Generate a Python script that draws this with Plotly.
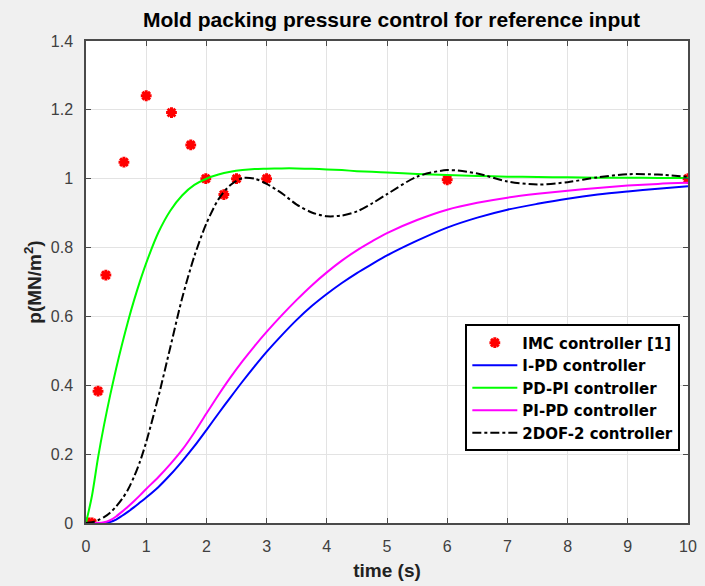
import plotly.graph_objects as go

# IMC controller [1] (red asterisks)
imc_t = [0, 0.05, 0.1, 0.2, 0.33, 0.63, 1.0, 1.42, 1.74, 1.99, 2.29, 2.5, 3.0, 6.0, 10.0]
imc_p = [0, 0, 0, 0.383, 0.72, 1.048, 1.241, 1.192, 1.098, 1.0, 0.954, 1.0, 1.0, 0.997, 1.0]

# common time grid for the controller responses
t = [0, 0.1, 0.2, 0.3, 0.4, 0.5, 0.6, 0.7, 0.8, 0.9, 1.0, 1.2, 1.4, 1.6, 1.8, 2.0,
     2.2, 2.4, 2.6, 2.8, 3.0, 3.25, 3.5, 3.75, 4.0, 4.25, 4.5, 4.75, 5.0, 5.5, 6.0,
     6.5, 7.0, 7.5, 8.0, 8.5, 9.0, 9.5, 10.0]

ipd = [0, 0, 0, 0, 0.003, 0.01, 0.021, 0.033, 0.046, 0.06, 0.074, 0.104, 0.14, 0.18,
       0.223, 0.27, 0.318, 0.365, 0.411, 0.455, 0.497, 0.545, 0.59, 0.63, 0.665, 0.697,
       0.726, 0.752, 0.777, 0.82, 0.858, 0.887, 0.91, 0.927, 0.942, 0.954, 0.963, 0.971, 0.978]

pdpi = [0, 0.08, 0.19, 0.285, 0.37, 0.448, 0.52, 0.587, 0.648, 0.704, 0.755, 0.843, 0.907,
        0.952, 0.982, 1.0, 1.012, 1.02, 1.025, 1.028, 1.029, 1.03, 1.03, 1.029, 1.027,
        1.025, 1.022, 1.02, 1.018, 1.014, 1.011, 1.008, 1.006, 1.005, 1.004, 1.003, 1.003,
        1.002, 1.002]

pipd = [0, 0, 0, 0.002, 0.008, 0.019, 0.033, 0.048, 0.064, 0.081, 0.099, 0.133, 0.171,
        0.213, 0.263, 0.318, 0.372, 0.423, 0.47, 0.514, 0.555, 0.603, 0.648, 0.69, 0.728,
        0.762, 0.792, 0.818, 0.842, 0.88, 0.91, 0.93, 0.945, 0.956, 0.965, 0.973, 0.98,
        0.985, 0.988]

dof2 = [0, 0.002, 0.008, 0.017, 0.03, 0.048, 0.07, 0.098, 0.135, 0.18, 0.235, 0.365, 0.51,
        0.655, 0.775, 0.87, 0.94, 0.982, 1.002, 1.0, 0.985, 0.958, 0.925, 0.902, 0.891,
        0.893, 0.905, 0.928, 0.955, 1.006, 1.025, 1.015, 0.992, 0.983, 0.99, 1.004, 1.013,
        1.012, 1.005]

x_ticks = [0, 1, 2, 3, 4, 5, 6, 7, 8, 9, 10]
y_ticks = [0, 0.2, 0.4, 0.6, 0.8, 1.0, 1.2, 1.4]
y_tick_text = ["0", "0.2", "0.4", "0.6", "0.8", "1", "1.2", "1.4"]

FONT = "Liberation Sans, Arial, sans-serif"
LEGFONT = "DejaVu Sans, Liberation Sans, sans-serif"
AX = "#4a4a4a"

fig = go.Figure()
fig.add_trace(go.Scatter(x=imc_t, y=imc_p, mode="markers", name="IMC controller [1]",
                         marker=dict(symbol="asterisk-open", size=9, color="red",
                                     line=dict(color="red", width=3))))
fig.add_trace(go.Scatter(x=t, y=ipd, mode="lines", name="I-PD controller",
                         line=dict(color="#0000ff", width=2, shape="spline", smoothing=0.8)))
fig.add_trace(go.Scatter(x=t, y=pdpi, mode="lines", name="PD-PI controller",
                         line=dict(color="#00ff00", width=2, shape="spline", smoothing=0.8)))
fig.add_trace(go.Scatter(x=t, y=pipd, mode="lines", name="PI-PD controller",
                         line=dict(color="#ff00ff", width=2, shape="spline", smoothing=0.8)))
fig.add_trace(go.Scatter(x=t, y=dof2, mode="lines", name="2DOF-2 controller",
                         line=dict(color="black", width=2, dash="dashdot", shape="spline",
                                   smoothing=0.8)))

fig.update_layout(
    width=705, height=586,
    margin=dict(l=86, r=8, t=41, b=62, pad=0),
    paper_bgcolor="#f0f0f0", plot_bgcolor="white",
    font=dict(family=FONT, color="#404040"),
    title=dict(text="Mold packing pressure control for reference input",
               x=(86 + 611 / 2) / 705, xanchor="center", xref="container",
               y=1 - 20 / 586, yanchor="middle", yref="container",
               font=dict(family=FONT, size=21, color="black", weight="bold")),
    showlegend=True,
    legend=dict(x=(471 - 86) / 611, y=(524 - 325) / 483, xanchor="left", yanchor="top",
                bgcolor="white", bordercolor="black", borderwidth=2,
                itemwidth=45,
                font=dict(family=LEGFONT, size=15, color="black", weight="bold"),
                tracegroupgap=0),
)
fig.update_xaxes(range=[0, 10], tickvals=x_ticks, ticks="inside", ticklen=5,
                 tickcolor=AX, showline=True, linecolor=AX, linewidth=1.5, mirror="ticks",
                 showgrid=True, gridcolor="#e3e3e3", gridwidth=1, zeroline=False,
                 ticklabelstandoff=8,
                 tickfont=dict(size=16, color="#404040"),
                 title=dict(text="time (s)", standoff=10,
                            font=dict(size=19, color="#222222", weight="bold")))
fig.update_yaxes(range=[0, 1.4], tickvals=y_ticks, ticktext=y_tick_text, ticks="inside",
                 ticklen=5, tickcolor=AX, showline=True, linecolor=AX, linewidth=1.5,
                 mirror="ticks", showgrid=True, gridcolor="#e3e3e3", gridwidth=1,
                 zeroline=False, ticklabelstandoff=8, tickfont=dict(size=16, color="#404040"),
                 title=dict(text="p(MN/m<sup>2</sup>)", standoff=4,
                            font=dict(size=19, color="#222222", weight="bold")))

fig.write_html("out.html")
